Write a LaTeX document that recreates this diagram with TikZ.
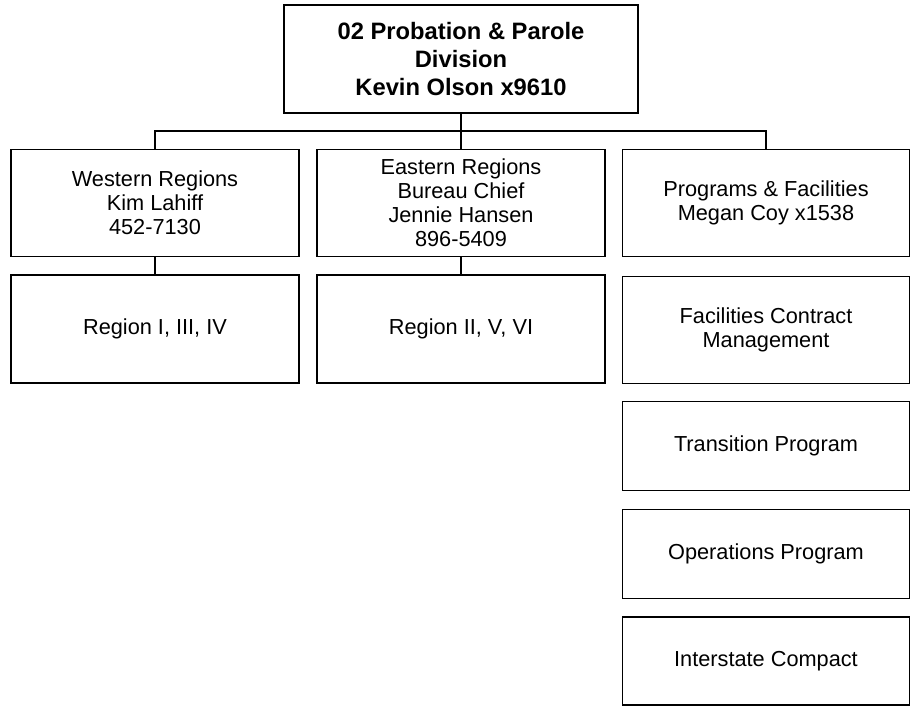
\documentclass[tikz,border=0pt]{standalone}
\usepackage{fontspec}
\setmainfont{Liberation Sans}
\begin{document}
\begin{tikzpicture}[x=0.75pt,y=-0.75pt,
  box/.style={draw=black,line width=0.9pt,fill=white,inner sep=0pt,align=center,
    font=\fontsize{16.3pt}{18pt}\selectfont},
  headbox/.style={box,font=\fontsize{17.8pt}{21pt}\selectfont\bfseries},
  link/.style={draw=black,line width=0.9pt}]
\useasboundingbox (0,0) rectangle (911,706);

% head of the division
\node[headbox,minimum width=354*0.75pt,minimum height=108*0.75pt] (head) at (461,59)
  {02 Probation \& Parole\\Division\\Kevin Olson x9610};

% first level
\node[box,minimum width=288*0.75pt,minimum height=107*0.75pt] (west) at (155,203)
  {Western Regions\\Kim Lahiff\\452-7130};
\node[box,minimum width=288*0.75pt,minimum height=107*0.75pt] (east) at (461,203)
  {Eastern Regions\\Bureau Chief\\Jennie Hansen\\896-5409};
\node[box,minimum width=287*0.75pt,minimum height=107*0.75pt] (prog) at (766,203)
  {Programs \& Facilities\\Megan Coy x1538};

% second level
\node[box,minimum width=288*0.75pt,minimum height=108*0.75pt] (regw) at (155,329)
  {Region I, III, IV};
\node[box,minimum width=288*0.75pt,minimum height=108*0.75pt] (rege) at (461,329)
  {Region II, V, VI};
\node[box,minimum width=287*0.75pt,minimum height=107*0.75pt] (fac) at (766,330)
  {Facilities Contract\\Management};
\node[box,minimum width=287*0.75pt,minimum height=89*0.75pt] (trans) at (766,446)
  {Transition Program};
\node[box,minimum width=287*0.75pt,minimum height=89*0.75pt] (oper) at (766,554)
  {Operations Program};
\node[box,minimum width=287*0.75pt,minimum height=88*0.75pt] (inter) at (766,661)
  {Interstate Compact};

% connectors
\coordinate (bus) at (461,131);
\draw[link] (head.south) -- (east.north);
\draw[link] (west.north) -- (west.north |- bus) -- (prog.north |- bus) -- (prog.north);
\draw[link] (west.south) -- (regw.north);
\draw[link] (east.south) -- (rege.north);
\end{tikzpicture}
\end{document}
